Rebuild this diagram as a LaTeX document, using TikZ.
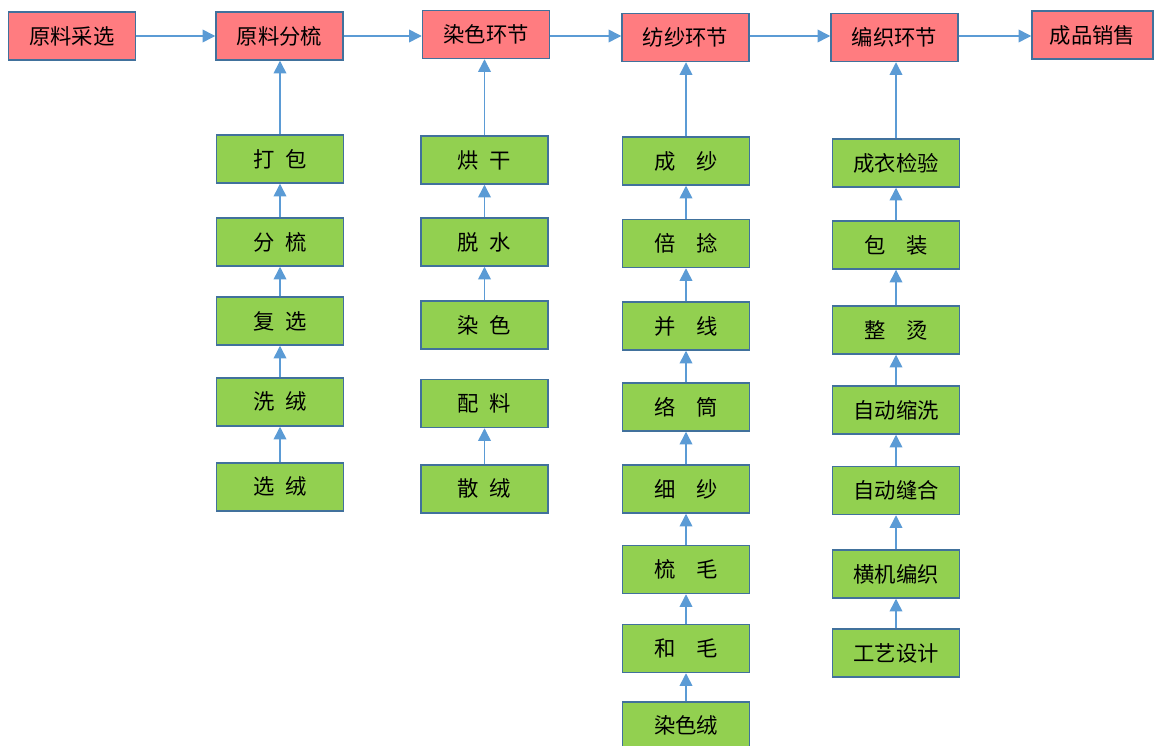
\documentclass[tikz,border=0pt]{standalone}
\usepackage{fontspec}
\setmainfont{Noto Sans CJK SC}
\usetikzlibrary{arrows.meta}

\definecolor{stagered}{HTML}{FF7C80}
\definecolor{taskgreen}{HTML}{92D050}
\definecolor{boxline}{HTML}{41719C}
\definecolor{flowblue}{HTML}{5B9BD5}

\tikzset{
	box/.style={draw=boxline, line width=1.1pt, minimum width=95.25pt, minimum height=36pt, inner sep=0pt, font=\fontsize{16}{19}\selectfont},
	stage/.style={box, fill=stagered},
	task/.style={box, fill=taskgreen},
	flow/.style={draw=flowblue, line width=1.1pt, -{Triangle[length=9.5pt,width=9.5pt]}}
}

\begin{document}
\begin{tikzpicture}[x=0.75pt,y=-0.75pt]
	\useasboundingbox (0,0) rectangle (1154,746);

	% main stages
	\node[stage] (s1) at (72,36) {原料采选};
	\node[stage] (s2) at (279.5,36) {原料分梳};
	\node[stage] (s3) at (486,34.5) {染色环节};
	\node[stage] (s4) at (685.5,37.5) {纺纱环节};
	\node[stage] (s5) at (894.5,37.5) {编织环节};
	\node[stage, minimum width=90.75pt] (s6) at (1092.5,35) {成品销售};

	\foreach \a/\b in {s1/s2, s2/s3, s3/s4, s4/s5, s5/s6}
		\draw[flow] (\a.east |- s1) -- (\b.west |- s1);

	% sub steps
	\foreach \n/\t/\y in {a1/打\enspace 包/159, a2/分\enspace 梳/242, a3/复\enspace 选/321, a4/洗\enspace 绒/402, a5/选\enspace 绒/487}
		\node[task] (\n) at (280,\y) {\t};
	\foreach \n/\t/\y in {b1/烘\enspace 干/160, b2/脱\enspace 水/242, b3/染\enspace 色/325, b4/配\enspace 料/403.5, b5/散\enspace 绒/489}
		\node[task] (\n) at (484.5,\y) {\t};
	\foreach \n/\t/\y in {c1/成\quad 纱/161, c2/倍\quad 捻/243.5, c3/并\quad 线/326, c4/络\quad 筒/407, c5/细\quad 纱/489, c6/梳\quad 毛/569.5, c7/和\quad 毛/648.5, c8/染色绒/726}
		\node[task] (\n) at (686,\y) {\t};
	\foreach \n/\t/\y in {d1/成衣检验/163, d2/包\quad 装/245, d3/整\quad 烫/330, d4/自动缩洗/410, d5/自动缝合/490.5, d6/横机编织/574, d7/工艺设计/653}
		\node[task] (\n) at (896,\y) {\t};

	\foreach \a/\b in {a1/s2, a2/a1, a3/a2, a4/a3, a5/a4,
			b1/s3, b2/b1, b3/b2, b5/b4,
			c1/s4, c2/c1, c3/c2, c4/c3, c5/c4, c6/c5, c7/c6, c8/c7,
			d1/s5, d2/d1, d3/d2, d4/d3, d5/d4, d6/d5, d7/d6}
		\draw[flow] (\a.north) -- (\a.north |- \b.south);
\end{tikzpicture}
\end{document}
